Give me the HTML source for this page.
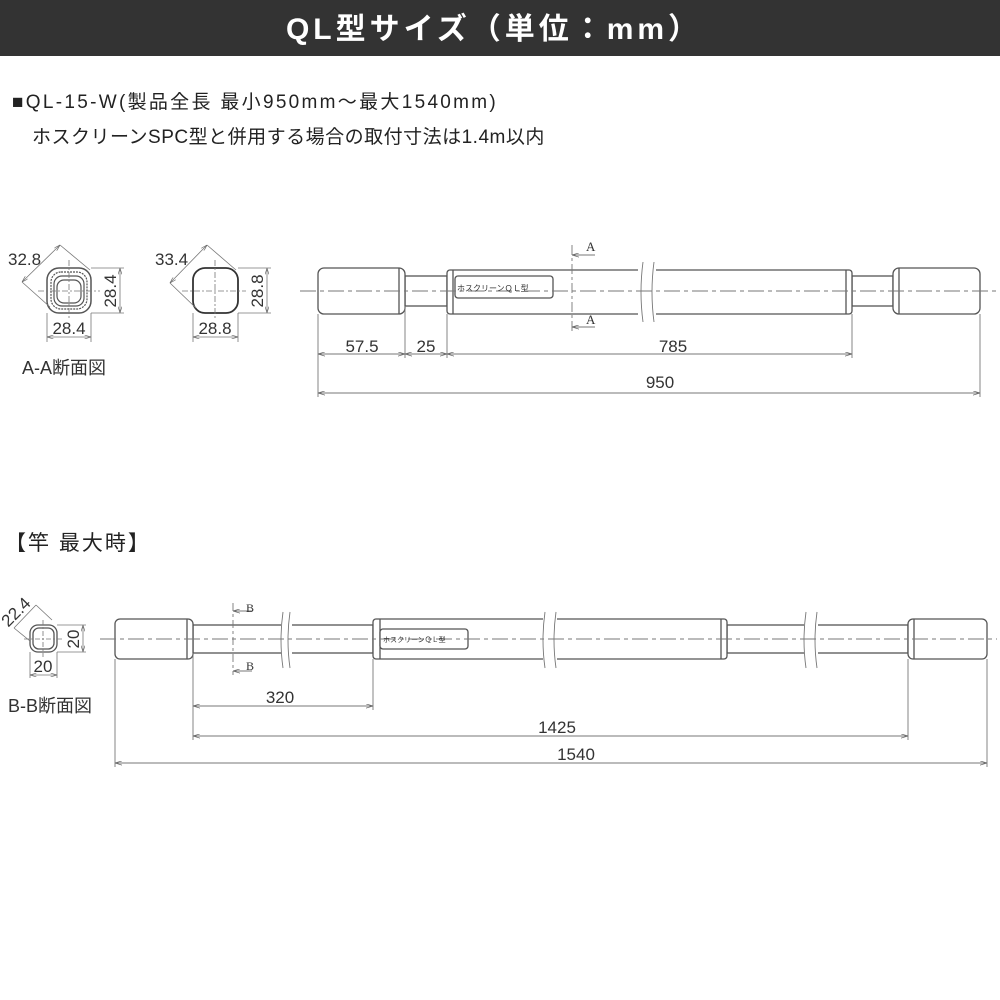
<!DOCTYPE html>
<html><head><meta charset="utf-8"><style>
body{margin:0;width:1000px;height:1000px;background:#fff;overflow:hidden;font-family:"Liberation Sans","Noto Sans CJK JP",sans-serif;}
svg{position:absolute;left:0;top:0}
</style></head><body>
<svg width="1000" height="1000" viewBox="0 0 1000 1000" xmlns="http://www.w3.org/2000/svg" font-family="Liberation Sans, Noto Sans CJK JP, sans-serif">
<defs>
<marker id="ar" viewBox="0 0 10 6" refX="10" refY="3" markerWidth="8" markerHeight="5" orient="auto-start-reverse"><path d="M0,0 L10,3 L0,6" fill="none" stroke="#666" stroke-width="1"/></marker>
</defs>
<rect x="0" y="0" width="1000" height="56" fill="#333"/>
<text x="494" y="39" fill="#fff" font-size="30" font-weight="bold" text-anchor="middle" letter-spacing="4">QL型サイズ（単位：mm）</text>
<text x="12" y="108" font-size="19" fill="#222" letter-spacing="2.3">■QL-15-W(製品全長 最小950mm～最大1540mm)</text>
<text x="32" y="143" font-size="19" fill="#222" letter-spacing="0.5">ホスクリーンSPC型と併用する場合の取付寸法は1.4m以内</text>

<g stroke="#555" fill="none" stroke-width="1.2">
<rect x="47" y="268" width="44" height="45" rx="12" stroke-width="1.5"/>
<rect x="51" y="272" width="36" height="37" rx="10" stroke-dasharray="2 1"/>
<rect x="54" y="276" width="30" height="30" rx="8"/>
<rect x="57" y="280" width="24" height="23" rx="7"/>
<rect x="193" y="268" width="45" height="45" rx="12" stroke-width="1.8" stroke="#333"/>
</g>
<g stroke="#777" fill="none" stroke-width="0.8">
<line x1="69" y1="260" x2="69" y2="320" stroke-dasharray="6 2 2 2"/>
<line x1="38" y1="291" x2="100" y2="291" stroke-dasharray="6 2 2 2"/>
<line x1="215" y1="260" x2="215" y2="320" stroke-dasharray="6 2 2 2"/>
<line x1="182" y1="291" x2="246" y2="291" stroke-dasharray="6 2 2 2"/>
<line x1="91" y1="268" x2="124" y2="268"/><line x1="91" y1="313" x2="124" y2="313"/>
<line x1="120" y1="268" x2="120" y2="313" marker-start="url(#ar)" marker-end="url(#ar)"/>
<line x1="47" y1="313" x2="47" y2="342"/><line x1="91" y1="313" x2="91" y2="342"/>
<line x1="47" y1="337" x2="91" y2="337" marker-start="url(#ar)" marker-end="url(#ar)"/>
<line x1="22" y1="282" x2="60" y2="245" marker-start="url(#ar)" marker-end="url(#ar)"/>
<line x1="60" y1="245" x2="90" y2="270"/><line x1="22" y1="282" x2="50" y2="307"/>
<line x1="238" y1="268" x2="271" y2="268"/><line x1="238" y1="313" x2="271" y2="313"/>
<line x1="267" y1="268" x2="267" y2="313" marker-start="url(#ar)" marker-end="url(#ar)"/>
<line x1="193" y1="313" x2="193" y2="342"/><line x1="238" y1="313" x2="238" y2="342"/>
<line x1="193" y1="337" x2="238" y2="337" marker-start="url(#ar)" marker-end="url(#ar)"/>
<line x1="170" y1="283" x2="207" y2="245" marker-start="url(#ar)" marker-end="url(#ar)"/>
<line x1="207" y1="245" x2="236" y2="270"/><line x1="170" y1="283" x2="196" y2="308"/>
</g>
<g font-size="17" fill="#333">
<text x="8" y="265">32.8</text>
<text x="69" y="334" text-anchor="middle">28.4</text>
<text transform="translate(116,291) rotate(-90)" text-anchor="middle">28.4</text>
<text x="155" y="265">33.4</text>
<text x="215" y="334" text-anchor="middle">28.8</text>
<text transform="translate(263,291) rotate(-90)" text-anchor="middle">28.8</text>
<text x="22" y="374" font-size="18">A-A断面図</text>
</g>

<g stroke="#555" fill="#fff" stroke-width="1.3">
<rect x="405" y="276" width="42" height="30"/>
<rect x="852" y="276" width="41" height="30"/>
<rect x="318" y="268" width="87" height="46" rx="6"/>
<rect x="893" y="268" width="87" height="46" rx="6"/>
<rect x="447" y="270" width="405" height="44" rx="3"/>
<line x1="399" y1="268" x2="399" y2="314"/>
<line x1="453" y1="270" x2="453" y2="314"/>
<line x1="846" y1="270" x2="846" y2="314"/>
<line x1="899" y1="268" x2="899" y2="314"/>
<rect x="455" y="276" width="98" height="22" rx="3"/>
</g>
<rect x="638" y="262" width="18" height="60" fill="#fff"/>
<g stroke="#777" fill="none" stroke-width="0.9">
<path d="M643,262 q-4,30 0,60"/><path d="M654,262 q-4,30 0,60"/>
<line x1="300" y1="291" x2="998" y2="291" stroke-dasharray="16 4 4 4"/>
<line x1="572" y1="245" x2="572" y2="332" stroke-dasharray="10 3 3 3"/>
<line x1="595" y1="255" x2="572" y2="255" marker-end="url(#ar)"/>
<line x1="595" y1="327" x2="572" y2="327" marker-end="url(#ar)"/>
<line x1="318" y1="314" x2="318" y2="397"/>
<line x1="405" y1="306" x2="405" y2="358"/>
<line x1="447" y1="314" x2="447" y2="358"/>
<line x1="852" y1="314" x2="852" y2="358"/>
<line x1="980" y1="314" x2="980" y2="397"/>
<line x1="318" y1="354" x2="405" y2="354" marker-start="url(#ar)" marker-end="url(#ar)"/>
<line x1="405" y1="354" x2="447" y2="354" marker-start="url(#ar)" marker-end="url(#ar)"/>
<line x1="447" y1="354" x2="852" y2="354" marker-start="url(#ar)" marker-end="url(#ar)"/>
<line x1="318" y1="393" x2="980" y2="393" marker-start="url(#ar)" marker-end="url(#ar)"/>
</g>
<text x="457" y="291" font-size="8" fill="#333">ホスクリーンＱＬ型</text>
<text x="586" y="251" font-size="13" font-family="Liberation Serif, serif" fill="#333">A</text>
<text x="586" y="324" font-size="13" font-family="Liberation Serif, serif" fill="#333">A</text>
<g font-size="17" fill="#333" text-anchor="middle">
<text x="362" y="352">57.5</text>
<text x="426" y="352">25</text>
<text x="673" y="352">785</text>
<text x="660" y="388">950</text>
</g>

<text x="5" y="550" font-size="21" fill="#222" letter-spacing="2">【竿 最大時】</text>

<g stroke="#555" fill="none" stroke-width="1.3">
<rect x="30" y="625" width="27" height="27" rx="8"/>
<rect x="33" y="628" width="21" height="21" rx="6"/>
</g>
<g stroke="#777" fill="none" stroke-width="0.8">
<line x1="43" y1="620" x2="43" y2="657" stroke-dasharray="5 2 2 2"/>
<line x1="24" y1="639" x2="64" y2="639" stroke-dasharray="5 2 2 2"/>
<line x1="57" y1="625" x2="86" y2="625"/><line x1="57" y1="652" x2="86" y2="652"/>
<line x1="83" y1="625" x2="83" y2="652" marker-start="url(#ar)" marker-end="url(#ar)"/>
<line x1="30" y1="652" x2="30" y2="678"/><line x1="57" y1="652" x2="57" y2="678"/>
<line x1="30" y1="675" x2="57" y2="675" marker-start="url(#ar)" marker-end="url(#ar)"/>
<line x1="14" y1="628" x2="36" y2="605"/>
<line x1="36" y1="605" x2="52" y2="620"/><line x1="14" y1="628" x2="30" y2="641"/>
</g>
<g font-size="17" fill="#333">
<text x="43" y="672" text-anchor="middle">20</text>
<text transform="translate(79,639) rotate(-90)" text-anchor="middle">20</text>
<text transform="translate(20,616) rotate(-45)" text-anchor="middle">22.4</text>
<text x="8" y="712" font-size="18">B-B断面図</text>
</g>

<g stroke="#555" fill="#fff" stroke-width="1.3">
<rect x="193" y="625" width="180" height="28"/>
<rect x="727" y="625" width="181" height="28"/>
<rect x="115" y="619" width="78" height="40" rx="5"/>
<rect x="908" y="619" width="79" height="40" rx="5"/>
<rect x="373" y="619" width="354" height="40" rx="3"/>
<line x1="187" y1="619" x2="187" y2="659"/>
<line x1="380" y1="619" x2="380" y2="659"/>
<line x1="721" y1="619" x2="721" y2="659"/>
<line x1="914" y1="619" x2="914" y2="659"/>
<rect x="380" y="629" width="88" height="20" rx="3"/>
</g>
<rect x="281" y="612" width="11" height="56" fill="#fff"/>
<rect x="543" y="610" width="14" height="58" fill="#fff"/>
<rect x="804" y="612" width="14" height="56" fill="#fff"/>
<g stroke="#777" fill="none" stroke-width="0.9">
<path d="M283,612 q-4,28 0,56"/><path d="M290,612 q-4,28 0,56"/>
<path d="M545,612 q-4,28 0,56"/><path d="M556,612 q-4,28 0,56"/>
<path d="M806,612 q-4,28 0,56"/><path d="M817,612 q-4,28 0,56"/>
<line x1="100" y1="639" x2="997" y2="639" stroke-dasharray="16 4 4 4"/>
<line x1="233" y1="603" x2="233" y2="675" stroke-dasharray="8 3 3 3"/>
<line x1="252" y1="611" x2="233" y2="611" marker-end="url(#ar)"/>
<line x1="252" y1="671" x2="233" y2="671" marker-end="url(#ar)"/>
<line x1="115" y1="659" x2="115" y2="767"/>
<line x1="193" y1="653" x2="193" y2="740"/>
<line x1="373" y1="659" x2="373" y2="710"/>
<line x1="908" y1="659" x2="908" y2="740"/>
<line x1="987" y1="659" x2="987" y2="767"/>
<line x1="193" y1="706" x2="373" y2="706" marker-start="url(#ar)" marker-end="url(#ar)"/>
<line x1="193" y1="736" x2="908" y2="736" marker-start="url(#ar)" marker-end="url(#ar)"/>
<line x1="115" y1="763" x2="987" y2="763" marker-start="url(#ar)" marker-end="url(#ar)"/>
</g>
<text x="383" y="642" font-size="7" fill="#333">ホスクリーンＱＬ型</text>
<text x="246" y="612" font-size="12" font-family="Liberation Serif, serif" fill="#333">B</text>
<text x="246" y="670" font-size="12" font-family="Liberation Serif, serif" fill="#333">B</text>
<g font-size="17" fill="#333" text-anchor="middle">
<text x="280" y="703">320</text>
<text x="557" y="733">1425</text>
<text x="576" y="760">1540</text>
</g>
</svg>
</body></html>
